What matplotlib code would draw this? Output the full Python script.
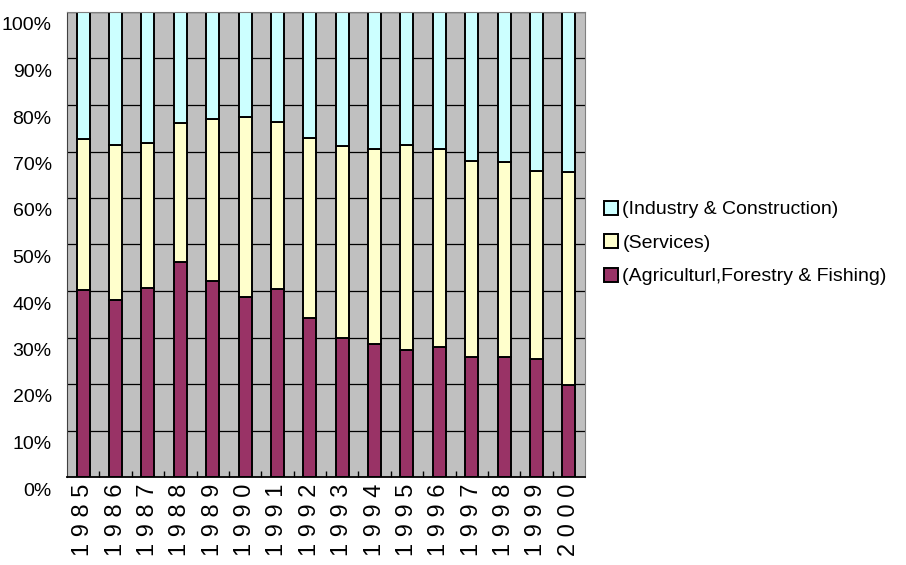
import numpy as np
import matplotlib.pyplot as plt
from matplotlib.transforms import ScaledTranslation
from matplotlib.ticker import FixedLocator, PercentFormatter

years = [1985, 1986, 1987, 1988, 1989, 1990, 1991, 1992,
         1993, 1994, 1995, 1996, 1997, 1998, 1999, 2000]
# shares in percent of total output
agri = [40.2, 38.1, 40.6, 46.3, 42.2, 38.8, 40.4, 34.2,
        30.0, 28.7, 27.3, 27.9, 25.9, 25.9, 25.4, 19.8]
services = [32.5, 33.2, 31.2, 29.9, 34.8, 38.7, 35.9, 38.6,
            41.2, 41.8, 44.1, 42.6, 42.1, 41.8, 40.3, 45.7]
industry = [100 - a - s for a, s in zip(agri, services)]

names = ['(Agriculturl,Forestry & Fishing)', '(Services)',
         '(Industry & Construction)']
colors = ['#993366', '#FFFFCC', '#CCFFFF']

plt.rcParams['font.family'] = ['Liberation Sans']

fig = plt.figure(figsize=(9.06, 5.65), dpi=100)
ax = fig.add_axes([67/906, 1 - 477/565, (585-67)/906, (477-12)/565])
ax.set_facecolor('#C0C0C0')
ax.set_axisbelow(True)
ax.yaxis.grid(True, color='black', linewidth=0.9)

x = np.arange(len(years))
bottom = np.zeros(len(years))
bars = []
for vals, c, n in zip([agri, services, industry], colors, names):
    b = ax.bar(x, vals, width=0.4, bottom=bottom, color=c,
               edgecolor='black', linewidth=1.4, label=n)
    bars.append(b)
    bottom += np.array(vals)

ax.set_xlim(-0.5, len(years) - 0.5)
ax.set_ylim(0, 100)
ax.set_yticks(np.arange(0, 101, 10))
ax.yaxis.set_major_formatter(PercentFormatter(decimals=0))
ax.tick_params(axis='y', length=0, pad=11, labelsize=14)
for lab in ax.get_yticklabels():
    lab.set_transform(lab.get_transform() + ScaledTranslation(0, -0.12, fig.dpi_scale_trans))

# years written digit by digit down the axis
ax.set_xticks(x)
ax.set_xticklabels([' '.join(str(y)) for y in years], rotation=90, fontsize=17,
                   va='top', ha='center')
ax.tick_params(axis='x', length=0, pad=5)
ax.xaxis.set_minor_locator(FixedLocator(np.arange(0.5, len(years) - 0.5, 1)))
ax.tick_params(axis='x', which='minor', direction='in', length=4, width=1, color='black')

for side in ['top', 'right']:
    ax.spines[side].set_color('#808080')
ax.spines['left'].set_color('#404040')
ax.spines['bottom'].set_color('black')
ax.spines['bottom'].set_linewidth(1.3)

handles = bars[::-1]
fig.legend(handles, names[::-1], loc='center left', bbox_to_anchor=(596/906, 1 - 243/565),
           frameon=False, fontsize=14, handlelength=0.75, handleheight=0.75,
           handletextpad=0.2, labelspacing=0.8, borderaxespad=0)

fig.savefig('out.png', dpi=100)
